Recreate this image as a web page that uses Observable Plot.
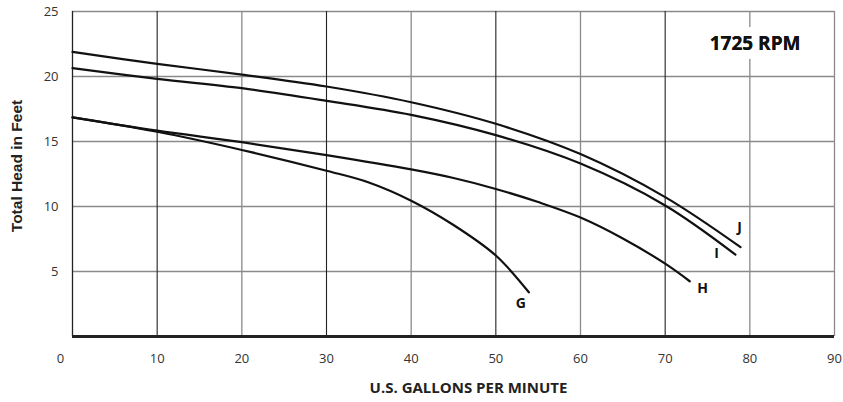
<!DOCTYPE html>
<html>
<head>
<meta charset="utf-8">
<script src="https://cdn.jsdelivr.net/npm/d3@7"></script>
<script src="https://cdn.jsdelivr.net/npm/@observablehq/plot@0.6"></script>
<style>
  html, body { margin: 0; padding: 0; background: #fff; }
  #chart { width: 843px; height: 402px; }
</style>
</head>
<body>
<div id="chart"></div>
<script>
// ---- data ----
const curveNames = ["G", "H", "I", "J"];
const gpmG = [0, 10, 20, 30, 35, 40, 45, 50, 53.9];
const headG = [16.85, 15.75, 14.35, 12.75, 11.85, 10.45, 8.58, 6.23, 3.4];
const gpmH = [0, 10, 20, 30, 40, 45, 50, 55, 60, 65, 70, 72.9];
const headH = [16.85, 15.83, 14.95, 13.95, 12.85, 12.19, 11.35, 10.34, 9.15, 7.54, 5.6, 4.25];
const gpmI = [0, 10, 20, 30, 40, 50, 60, 70, 78.3];
const headI = [20.65, 19.82, 19.1, 18.13, 17.05, 15.49, 13.3, 10.08, 6.3];
const gpmJ = [0, 10, 20, 30, 40, 50, 60, 70, 78.9];
const headJ = [21.9, 20.97, 20.15, 19.23, 18.02, 16.36, 14.03, 10.72, 6.87];
const xTicks = [0, 10, 20, 30, 40, 50, 60, 70, 80, 90];
const yTicks = [5, 10, 15, 20, 25];
const darkGridX = [10, 30, 50, 70];
const grayGridX = [20, 40, 60, 80, 90];
const rpmLabel = "1725 RPM";
const xTitle = "U.S. GALLONS PER MINUTE";
const yTitle = "Total Head in Feet";

const series = {
  G: gpmG.map((x, i) => ({name: "G", gpm: x, head: headG[i]})),
  H: gpmH.map((x, i) => ({name: "H", gpm: x, head: headH[i]})),
  I: gpmI.map((x, i) => ({name: "I", gpm: x, head: headI[i]})),
  J: gpmJ.map((x, i) => ({name: "J", gpm: x, head: headJ[i]}))
};
const allPoints = curveNames.flatMap(n => series[n]);
const endPoints = curveNames.map(n => series[n][series[n].length - 1]);

// label offsets (styling only)
const labelOffset = {G: [-8, 11], H: [13, 7], I: [-19, -1], J: [-1, -20]};

const font = "'Open Sans', 'Noto Sans', sans-serif";

const marks = [
  Plot.ruleY(yTicks, {stroke: "#8a8a8a", strokeWidth: 1.3}),
  Plot.ruleX(grayGridX, {stroke: "#8a8a8a", strokeWidth: 1.3}),
  Plot.ruleX(darkGridX, {stroke: "#222", strokeWidth: 1.1}),
  Plot.ruleX([0], {stroke: "#222", strokeWidth: 1.3}),
  Plot.line(allPoints, {x: "gpm", y: "head", z: "name", curve: "catmull-rom", stroke: "#111", strokeWidth: 2.2}),
  Plot.ruleY([0], {stroke: "#222", strokeWidth: 3}),
  Plot.axisY(yTicks, {tickSize: 0, tickPadding: 14, fontSize: 13, fill: "#333", label: null, fontFamily: font}),
  Plot.axisX(xTicks.filter(d => d > 0 && d < 90), {tickSize: 0, tickPadding: 17, fontSize: 13, fill: "#333", label: null, fontFamily: font}),
  Plot.axisX([0], {tickSize: 0, tickPadding: 17, fontSize: 13, fill: "#333", label: null, dx: -12, fontFamily: font}),
  Plot.axisX([90], {tickSize: 0, tickPadding: 17, fontSize: 13, fill: "#333", label: null, dx: 0, fontFamily: font}),
  Plot.text([rpmLabel], {frameAnchor: "top-right", text: d => d, dx: -34, dy: 32, lineAnchor: "middle", textAnchor: "end",
    fontSize: 19, fontWeight: "bold", fill: "#111", stroke: "white", strokeWidth: 18, fontFamily: font}),
  Plot.text([rpmLabel], {frameAnchor: "top-right", text: d => d, dx: -34, dy: 32, lineAnchor: "middle", textAnchor: "end",
    fontSize: 19, fontWeight: "bold", fill: "#111", fontFamily: font}),
  ...endPoints.map(p => Plot.text([p], {x: "gpm", y: "head", text: "name", dx: labelOffset[p.name][0], dy: labelOffset[p.name][1],
    fontSize: 14, fontWeight: "bold", fill: "#111", fontFamily: font})),
  Plot.text([xTitle], {frameAnchor: "bottom", text: d => d, dx: 15, dy: 56, fontSize: 15, fontWeight: "bold", fill: "#222", fontFamily: font}),
  Plot.text([yTitle], {frameAnchor: "left", text: d => d, dx: -55, dy: -8, rotate: -90, textAnchor: "middle", fontSize: 15.5, fontWeight: "bold", fill: "#222",
    fontFamily: "'Liberation Sans', Arial, sans-serif"})
];

const chart = Plot.plot({
  width: 843,
  height: 402,
  marginLeft: 72,
  marginRight: 9,
  marginTop: 11,
  marginBottom: 66,
  style: {background: "#fff", fontFamily: font, overflow: "visible"},
  x: {domain: [0, 90], axis: null},
  y: {domain: [0, 25], axis: null},
  marks
});
document.getElementById("chart").appendChild(chart);
</script>
</body>
</html>
